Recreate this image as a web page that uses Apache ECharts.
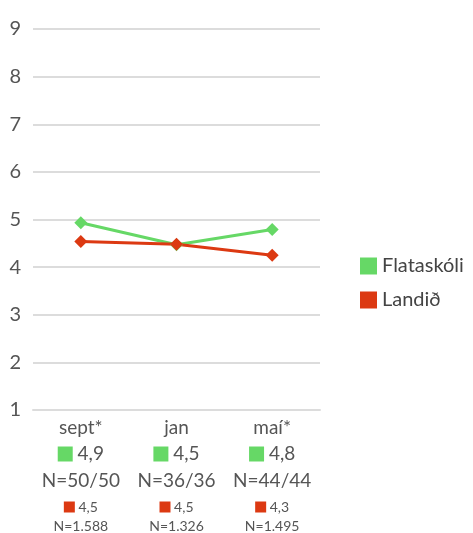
<!DOCTYPE html>
<html lang="is" style="height: 100%;margin: 0;">
<head>
    <meta charset="UTF-8">
    <title>chart</title>
</head>
<body style="height: 100%;margin: 0;background:#fff;">
<div id="chart" style="width: 473px;height: 533px;margin: 0;"></div>
<script src="https://cdn.jsdelivr.net/npm/echarts@6/dist/echarts.min.js"></script>
<script>
    var categories = ['sept*', 'jan', 'maí*'];
    var flataskoli = [4.93, 4.47, 4.79];
    var landid = [4.54, 4.48, 4.25];
    var flatLabels = ['4,9', '4,5', '4,8'];
    var flatN = ['N=50/50', 'N=36/36', 'N=44/44'];
    var landLabels = ['4,5', '4,5', '4,3'];
    var landN = ['N=1.588', 'N=1.326', 'N=1.495'];
    var names = ['Flataskóli', 'Landið'];
    var green = '#66d866';
    var red = '#dc3912';

    var myChart = echarts.init(document.getElementById('chart'), null, {renderer: 'canvas'});
    var option = {
        animation: false,
        textStyle: {fontFamily: 'Lato', color: '#555'},
        grid: {left: 33, right: 153, top: 29, bottom: 123, outerBoundsMode: 'none', containLabel: false},
        legend: {
            data: names,
            orient: 'vertical',
            left: 355,
            top: 251,
            icon: 'rect',
            itemWidth: 17,
            itemHeight: 17,
            itemGap: 14,
            textStyle: {fontSize: 20, color: '#444', fontFamily: 'Lato'}
        },
        xAxis: {
            type: 'category',
            data: categories,
            axisTick: {show: false},
            axisLine: {lineStyle: {color: '#dcdcdc', width: 2}},
            axisLabel: {
                margin: 5,
                formatter: function (value, index) {
                    return '{a|' + value + '}\n' +
                        '{gs|}{b| ' + flatLabels[index] + '}\n' +
                        '{n|' + flatN[index] + '}\n' +
                        '{rs|}{c| ' + landLabels[index] + '}\n' +
                        '{d|' + landN[index] + '}';
                },
                rich: {
                    a: {fontSize: 19, color: '#555', lineHeight: 26, fontFamily: 'Lato'},
                    b: {fontSize: 19, color: '#555', lineHeight: 26, fontFamily: 'Lato'},
                    n: {fontSize: 19, color: '#555', lineHeight: 28, fontFamily: 'Lato'},
                    c: {fontSize: 14, color: '#555', lineHeight: 24, fontFamily: 'Lato'},
                    d: {fontSize: 14, color: '#555', lineHeight: 14, fontFamily: 'Lato'},
                    gs: {backgroundColor: green, width: 15, height: 15},
                    rs: {backgroundColor: red, width: 11, height: 11}
                }
            }
        },
        yAxis: {
            type: 'value',
            min: 1,
            max: 9,
            interval: 1,
            axisLine: {show: false},
            axisTick: {show: false},
            axisLabel: {fontSize: 20, color: '#555', margin: 12, fontFamily: 'Lato'},
            splitLine: {lineStyle: {color: '#dcdcdc', width: 2}}
        },
        series: [
            {
                name: names[0],
                type: 'line',
                data: flataskoli,
                symbol: 'diamond',
                symbolSize: 13,
                itemStyle: {color: green},
                lineStyle: {color: green, width: 3}
            },
            {
                name: names[1],
                type: 'line',
                data: landid,
                symbol: 'diamond',
                symbolSize: 13,
                itemStyle: {color: red},
                lineStyle: {color: red, width: 3}
            }
        ]
    };
    myChart.setOption(option);
</script>
</body>
</html>
